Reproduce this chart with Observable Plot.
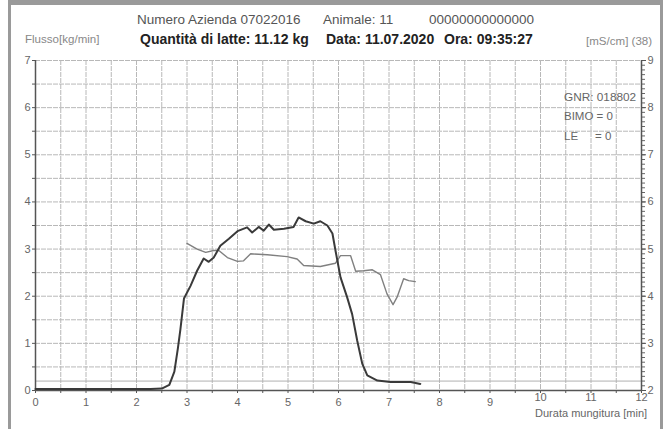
<!DOCTYPE html>
<html>
<head>
<meta charset="utf-8">
<script src="https://cdn.jsdelivr.net/npm/d3@7"></script>
<script src="https://cdn.jsdelivr.net/npm/@observablehq/plot@0.6"></script>
<style>
  html, body { margin: 0; padding: 0; background: #fff; }
  #wrap { position: relative; width: 663px; height: 429px; overflow: hidden; font-family: "Liberation Sans", Arial, sans-serif; }
  .t { position: absolute; white-space: pre; line-height: 1; transform-origin: left center; }
  .frame { position: absolute; background: #9a9a9a; }
</style>
</head>
<body>
<div id="wrap"></div>
<script>
// Milking time (min) and milk flow (kg/min)
const flowTime = [0, 1, 2, 2.28, 2.5, 2.65, 2.75, 2.82, 2.87, 2.94, 3.07, 3.2, 3.33, 3.43, 3.53, 3.66, 3.83, 4.0, 4.19, 4.29, 4.42, 4.52, 4.62, 4.72, 4.92, 5.11, 5.21, 5.35, 5.51, 5.64, 5.78, 5.88, 5.94, 6.04, 6.17, 6.27, 6.37, 6.47, 6.57, 6.77, 7.03, 7.43, 7.62];
const flowValue = [0.03, 0.03, 0.03, 0.03, 0.04, 0.12, 0.4, 0.9, 1.3, 1.95, 2.22, 2.54, 2.8, 2.73, 2.82, 3.07, 3.22, 3.38, 3.46, 3.35, 3.47, 3.39, 3.52, 3.41, 3.43, 3.47, 3.67, 3.59, 3.54, 3.59, 3.5, 3.33, 2.97, 2.4, 1.98, 1.62, 1.06, 0.57, 0.32, 0.21, 0.18, 0.18, 0.14];
// Conductivity (mS/cm)
const condTime = [3.0, 3.2, 3.37, 3.53, 3.63, 3.8, 4.0, 4.12, 4.26, 4.59, 4.98, 5.18, 5.31, 5.64, 5.94, 6.04, 6.24, 6.34, 6.5, 6.67, 6.83, 6.96, 7.08, 7.16, 7.29, 7.39, 7.52];
const condValue = [5.12, 5.0, 4.93, 4.97, 4.97, 4.82, 4.74, 4.75, 4.9, 4.88, 4.84, 4.79, 4.65, 4.63, 4.7, 4.86, 4.86, 4.53, 4.54, 4.56, 4.46, 4.05, 3.82, 3.98, 4.37, 4.33, 4.31];
// Axis ticks
const xTicksLow = [0, 1, 2, 3, 4, 5, 6, 7, 8, 9];
const xTicksHigh = [10, 11, 12];
const yTicks = [0, 1, 2, 3, 4, 5, 6, 7];
const rightOffset = 2; // right axis (mS/cm) = left + 2
const thresholdFlow = 0.2;

const flow = flowTime.map((t, i) => ({t, v: flowValue[i]}));
const cond = condTime.map((t, i) => ({t, v: condValue[i]}));

const halfX = d3.range(0, 12.001, 0.5);
const halfY = d3.range(0, 7.001, 0.5);
const minorRight = d3.range(0, 7.001, 0.1);

const plot = Plot.plot({
  width: 663,
  height: 429,
  marginLeft: 35,
  marginRight: 22,
  marginTop: 60,
  marginBottom: 39,
  x: {domain: [0, 12]},
  y: {domain: [0, 7]},
  style: {fontFamily: "'Liberation Sans', Arial, sans-serif", fontSize: "11px", color: "#666", background: "transparent"},
  marks: [
    Plot.ruleX(halfX, {stroke: "#b8b8b8", strokeWidth: 1, strokeDasharray: "5,1"}),
    Plot.ruleY(halfY, {stroke: "#b8b8b8", strokeWidth: 1, strokeDasharray: "5,1"}),
    Plot.ruleY([thresholdFlow], {stroke: "#b0b0b0", strokeWidth: 1}),
    Plot.axisX({ticks: halfX, tickSize: 3, tickFormat: () => "", label: null, stroke: "#555"}),
    Plot.axisX({ticks: xTicksLow, tickSize: 0, tickPadding: 8, label: null}),
    Plot.axisX({ticks: xTicksHigh, tickSize: 0, tickPadding: 3, label: null}),
    Plot.axisY({ticks: halfY, tickSize: 3, tickPadding: 2, tickFormat: d => Number.isInteger(d) ? d : "", label: null, stroke: "#555"}),
    Plot.axisY({anchor: "right", ticks: minorRight, tickSize: 3, tickFormat: () => "", label: null, stroke: "#666"}),
    Plot.axisY({anchor: "right", ticks: yTicks, tickSize: 4, tickPadding: 2, tickFormat: d => d + rightOffset, label: null, stroke: "#555"}),
    Plot.ruleX([0, 12], {stroke: "#555", strokeWidth: 1.5}),
    Plot.ruleY([0], {stroke: "#555", strokeWidth: 1.5}),
    Plot.line(cond, {x: "t", y: d => d.v - rightOffset, stroke: "#808080", strokeWidth: 1.4}),
    Plot.line(flow, {x: "t", y: "v", stroke: "#3a3a3a", strokeWidth: 2})
  ]
});

const wrap = document.getElementById("wrap");
wrap.appendChild(plot);
plot.style.position = "absolute";
plot.style.left = "0px";
plot.style.top = "0px";

function frame(l, t, w, h) {
  const d = document.createElement("div");
  d.className = "frame";
  Object.assign(d.style, {left: l + "px", top: t + "px", width: w + "px", height: h + "px"});
  wrap.appendChild(d);
}
frame(8, 0, 655, 5);
frame(8, 0, 3, 429);
frame(660, 0, 3, 429);

function txt(s, x, yc, size, color, weight, sx) {
  const d = document.createElement("div");
  d.className = "t";
  d.textContent = s;
  Object.assign(d.style, {left: x + "px", top: (yc - size / 2) + "px", fontSize: size + "px", color, fontWeight: weight || "normal"});
  if (sx) d.style.transform = `scaleX(${sx})`;
  wrap.appendChild(d);
}
txt("Numero Azienda 07022016", 137, 20, 13.5, "#555");
txt("Animale: 11", 323, 20, 13.5, "#555");
txt("00000000000000", 429, 20, 13.5, "#555");
txt("Quantità di latte: 11.12 kg", 140, 39, 14, "#222", "bold");
txt("Data: 11.07.2020", 326, 39, 14, "#222", "bold");
txt("Ora: 09:35:27", 444, 39, 14, "#222", "bold");
txt("Flusso[kg/min]", 25, 39, 10.5, "#888", null, 1.1);
txt("[mS/cm] (38)", 586, 41, 10.5, "#888", null, 1.1);
txt("GNR: 018802", 564, 98, 10, "#666", null, 1.18);
txt("BIMO = 0", 564, 117, 10, "#666", null, 1.15);
txt("LE", 564, 137, 10, "#666", null, 1.15);
txt("= 0", 595, 137, 10, "#666", null, 1.15);
txt("Durata mungitura [min]", 535, 413, 10.5, "#666", null, 1.05);
</script>
</body>
</html>
